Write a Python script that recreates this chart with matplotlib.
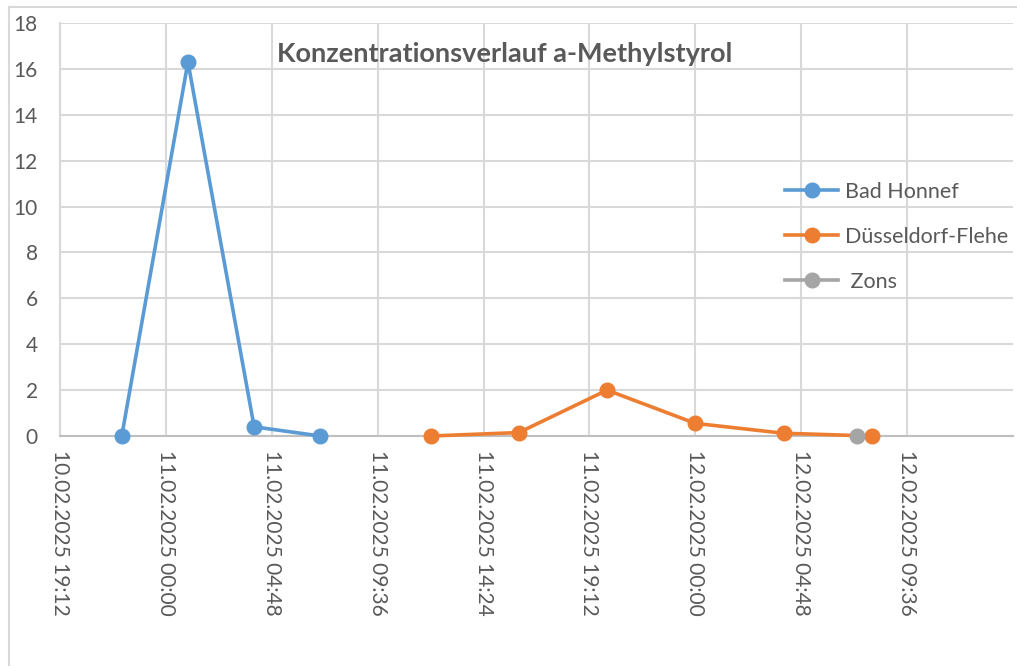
import pandas as pd
import matplotlib
matplotlib.use('Agg')
import matplotlib.pyplot as plt
import matplotlib.dates as mdates
from matplotlib.lines import Line2D

plt.rcParams['font.family'] = ['Lato', 'DejaVu Sans']

# === Daten ===
bad_honnef_zeit = ['2025-02-10 22:00', '2025-02-11 01:00', '2025-02-11 04:00', '2025-02-11 07:00']
bad_honnef_wert = [0.0, 16.3, 0.4, 0.0]

flehe_zeit = ['2025-02-11 12:00', '2025-02-11 16:00', '2025-02-11 20:00',
              '2025-02-12 00:00', '2025-02-12 04:00', '2025-02-12 08:00']
flehe_wert = [0.0, 0.15, 2.0, 0.55, 0.12, 0.0]

zons_zeit = ['2025-02-12 07:20']
zons_wert = [0.0]

x_start = '2025-02-10 19:12'
x_ende = '2025-02-12 14:24'
tick_schritt = '288min'  # 4,8 Stunden
y_ticks = list(range(0, 19, 2))

farbe_text = '#595959'
farbe_grid = '#d9d9d9'

fig = plt.figure(figsize=(10.17, 6.66), dpi=100)
ax = fig.add_axes([60 / 1017, 1 - 436 / 666, 953 / 1017, 413 / 666])

serien = [
    (bad_honnef_zeit, bad_honnef_wert, '#5B9BD5', 'Bad Honnef'),
    (flehe_zeit, flehe_wert, '#ED7D31', 'Düsseldorf-Flehe'),
    (zons_zeit, zons_wert, '#A5A5A5', ' Zons'),
]
for zeit, wert, farbe, name in serien:
    ax.plot(pd.to_datetime(zeit), wert, color=farbe, lw=2.6, marker='o',
            markersize=10.5, label=name, zorder=3, clip_on=False)

# === Achsen ===
ticks = pd.date_range(x_start, '2025-02-12 09:36', freq=tick_schritt)
ax.set_xlim(pd.Timestamp(x_start), pd.Timestamp(x_ende))
ax.set_xticks(ticks)
ax.xaxis.set_major_formatter(mdates.DateFormatter('%d.%m.%Y %H:%M'))
ax.set_ylim(0, 18)
ax.set_yticks(y_ticks)

ax.grid(True, color=farbe_grid, lw=1.5)
ax.set_axisbelow(True)
for s in ['top', 'right']:
    ax.spines[s].set_visible(False)
ax.spines['left'].set_color(farbe_grid)
ax.spines['left'].set_linewidth(1.5)
ax.spines['bottom'].set_color('#bfbfbf')
ax.spines['bottom'].set_linewidth(1.5)
ax.tick_params(length=0, labelcolor=farbe_text, labelsize=15)
ax.tick_params(axis='y', pad=16)
ax.tick_params(axis='x', pad=10)
for lbl in ax.get_xticklabels():
    lbl.set_rotation(-90)
    lbl.set_ha('center')
    lbl.set_va('top')

# === Titel ===
fig.text(505 / 1017, 1 - 54 / 666, 'Konzentrationsverlauf a-Methylstyrol',
         ha='center', va='center', fontsize=19.5, fontweight='bold', color=farbe_text)

# === Legende ===
leg = ax.legend(loc='upper left', bbox_to_anchor=(776 / 1017, 1 - 173 / 666),
                bbox_transform=fig.transFigure, frameon=False, fontsize=15.5,
                handlelength=2.5, handletextpad=0.3, labelspacing=1.17,
                borderaxespad=0)
for t in leg.get_texts():
    t.set_color(farbe_text)

# Rahmen des Diagrammbereichs
fig.add_artist(Line2D([9 / 1017, 9 / 1017], [0, 1 - 7 / 666], color=farbe_grid, lw=1.5))
fig.add_artist(Line2D([9 / 1017, 1], [1 - 7 / 666, 1 - 7 / 666], color=farbe_grid, lw=1.5))

fig.savefig('out.png', dpi=100)
